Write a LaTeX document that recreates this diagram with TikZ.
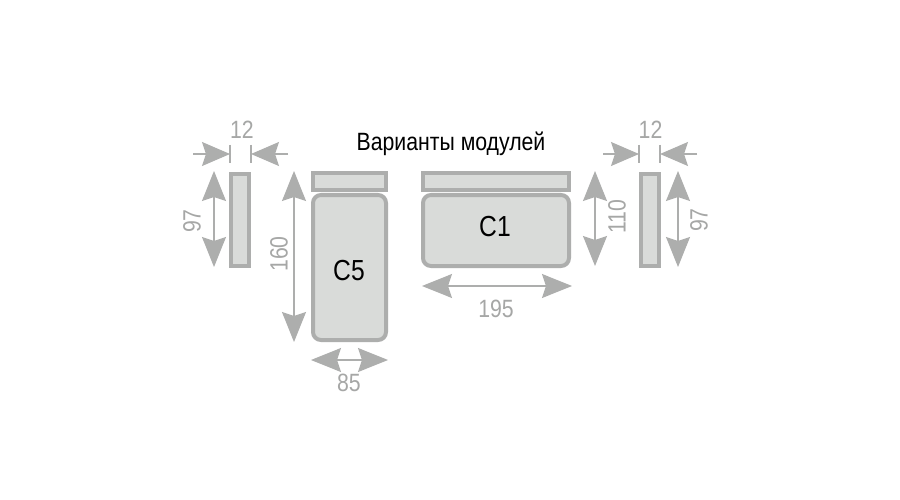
\documentclass[tikz,border=0pt]{standalone}
\usepackage{fontspec}
\setmainfont{Liberation Sans}
\usetikzlibrary{arrows.meta}
\definecolor{modline}{HTML}{ADAEAD}
\definecolor{modfill}{HTML}{D9DBD9}
\definecolor{dimtext}{HTML}{A6A7A6}
\tikzstyle{panel} = [rectangle, draw=modline, fill=modfill, line width=4pt, inner sep=0pt]
\tikzstyle{seat} = [panel, rounded corners=8pt]
\tikzstyle{dimline} = [draw=modline, line width=1.2pt]
\tikzstyle{dimarrow} = [dimline, {Stealth[length=30pt,width=24pt,inset=4pt]}-{Stealth[length=30pt,width=24pt,inset=4pt]}]
\tikzstyle{onearrow} = [dimline, -{Stealth[length=28pt,width=24pt,inset=4pt]}]
\tikzstyle{dimlabel} = [text=dimtext, inner sep=0pt, font=\fontsize{25}{25}\selectfont]
\tikzstyle{modlabel} = [text=black, inner sep=0pt, font=\fontsize{29}{29}\selectfont]
\tikzstyle{titlelabel} = [text=black, inner sep=0pt, font=\fontsize{25}{25}\selectfont]
\newcommand{\narrow}[1]{\scalebox{.85}[1]{#1}}

\begin{document}
\begin{tikzpicture} [x=1pt, y=-1pt]
\useasboundingbox (0,0) rectangle (900,500);
\fill [white] (0,0) rectangle (900,500);

% modules
\node (lpanel) [panel, minimum width=18pt, minimum height=92pt] at (240,220) {};
\node (rpanel) [panel, minimum width=18pt, minimum height=92pt] at (650,220) {};
\node (fivetop) [panel, minimum width=73pt, minimum height=17pt] at (349.5,182) {};
\node (fivebody) [seat, minimum width=73pt, minimum height=145pt] at (349.5,267.5) {};
\node (onetop) [panel, minimum width=146pt, minimum height=17pt] at (496,181.5) {};
\node (onebody) [seat, minimum width=146pt, minimum height=71pt] at (496,230.5) {};

% labels
\node (title) [titlelabel] at (451,144) {\narrow{Варианты модулей}};
\node (cfive) [modlabel] at (349,271) {\narrow{C5}};
\node (cone) [modlabel] at (495,227) {\narrow{C1}};
\node (ltwelve) [dimlabel] at (242,130) {\narrow{12}};
\node (rtwelve) [dimlabel] at (650.5,130) {\narrow{12}};
\node (lheight) [dimlabel, rotate=90] at (192,221) {\narrow{97}};
\node (rheight) [dimlabel, rotate=90] at (699,220) {\narrow{97}};
\node (fiveheight) [dimlabel, rotate=90] at (279,254) {\narrow{160}};
\node (oneheight) [dimlabel, rotate=90] at (617,217) {\narrow{110}};
\node (onewidth) [dimlabel] at (496,309) {\narrow{195}};
\node (fivewidth) [dimlabel] at (349,383) {\narrow{85}};

% end points of the dimension lines
\coordinate (la) at (193,154);
\coordinate (lb) at (230,154);
\coordinate (lc) at (251,154);
\coordinate (ld) at (288,154);
\coordinate (ra) at (603,154);
\coordinate (rb) at (639,154);
\coordinate (rc) at (660,154);
\coordinate (rd) at (697,154);
\coordinate (lhup) at (214,171);
\coordinate (lhdn) at (214,267);
\coordinate (rhup) at (678,171);
\coordinate (rhdn) at (678,267);
\coordinate (fhup) at (294,171);
\coordinate (fhdn) at (294,342);
\coordinate (ohup) at (595,171);
\coordinate (ohdn) at (595,266);
\coordinate (owl) at (422,286);
\coordinate (owr) at (572,286);
\coordinate (fwl) at (311,360);
\coordinate (fwr) at (388,360);

\draw [onearrow] (la) -- (lb);
\draw [onearrow] (ld) -- (lc);
\draw [onearrow] (ra) -- (rb);
\draw [onearrow] (rd) -- (rc);
\draw [dimline] ([yshift=9pt]lb) -- ([yshift=-9pt]lb);
\draw [dimline] ([yshift=9pt]lc) -- ([yshift=-9pt]lc);
\draw [dimline] ([yshift=9pt]rb) -- ([yshift=-9pt]rb);
\draw [dimline] ([yshift=9pt]rc) -- ([yshift=-9pt]rc);
\draw [dimarrow] (lhup) -- (lhdn);
\draw [dimarrow] (rhup) -- (rhdn);
\draw [dimarrow] (fhup) -- (fhdn);
\draw [dimarrow] (ohup) -- (ohdn);
\draw [dimarrow] (owl) -- (owr);
\draw [dimarrow] (fwl) -- (fwr);
\end{tikzpicture}
\end{document}
